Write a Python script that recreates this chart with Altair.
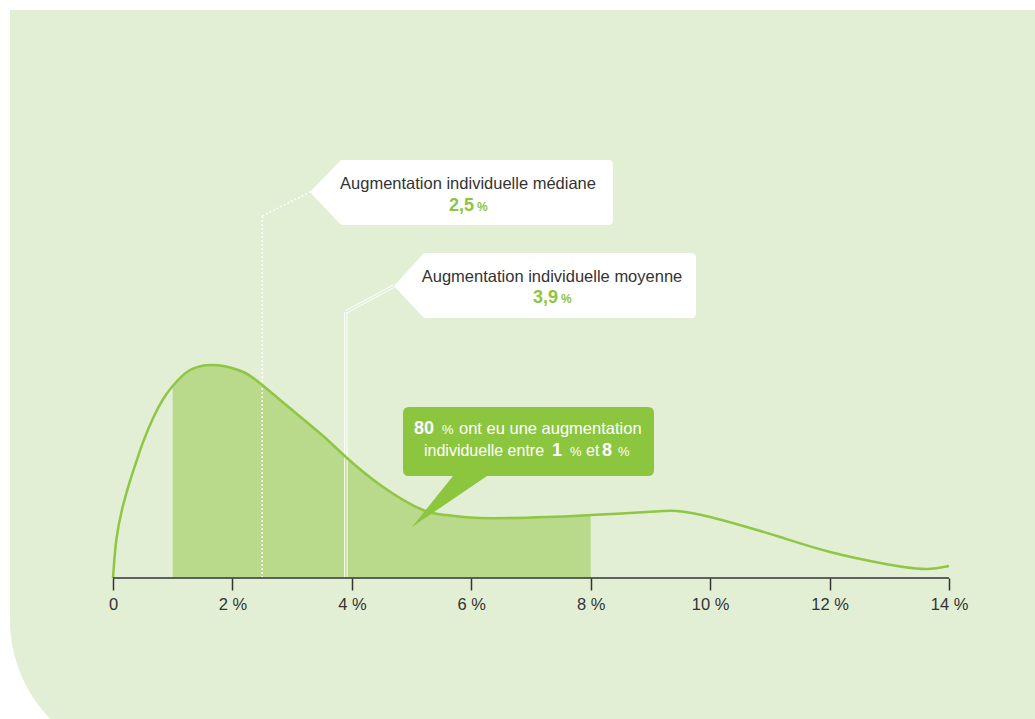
import altair as alt
import pandas as pd

# Distribution of individual raises: raise in % and relative density
raise_pct = [0, 0.06, 0.17, 0.29, 0.4, 0.51, 0.68, 0.84, 1.0, 1.29, 1.62, 1.85, 2.18, 2.5,
             2.96, 3.52, 3.9, 4.5, 5.19, 5.59, 6.15, 7.27, 8.0, 8.94, 9.44, 10.0,
             10.61, 11.17, 12.01, 12.85, 13.24, 13.63, 14.0]
density = [0, 40, 73, 98, 118, 137, 161, 179, 192, 208, 213, 212, 206, 193,
           170, 142, 121, 92, 68, 63, 60, 61, 63, 66, 67, 61,
           51, 41, 26, 15, 11, 9, 12]

# Summary statistics
median_raise = 2.5
mean_raise = 3.9
band_share = 80
band_low = 1
band_high = 8

tick_values = [0, 2, 4, 6, 8, 10, 12, 14]

PANEL = "#e2efd5"
FILL = "#b9d98b"
LINE = "#8fc644"
GREEN = "#8cc63f"
DARK = "#333333"
FONT = "Liberation Sans"


def fr(v):
    return f"{v:.1f}".replace(".", ",")


curve = pd.DataFrame({"pct": raise_pct, "dens": density})
one = pd.DataFrame({"k": [0]})
stats = pd.DataFrame({"median": [median_raise], "mean": [mean_raise]})
extent = pd.DataFrame({"lo": [min(tick_values)], "hi": [max(tick_values)]})

x_scale = alt.Scale(domain=[-1.8923, 15.4402], nice=False, zero=False)
y_scale = alt.Scale(domain=[0, 578], nice=False, zero=True)
x_axis = alt.Axis(
    values=tick_values,
    labelExpr="datum.value == 0 ? '0' : datum.value + ' %'",
    domain=False, grid=False, tickSize=12, tickWidth=1.5, tickColor=DARK,
    labelColor=DARK, labelFont=FONT, labelFontSize=16.5, labelPadding=6,
    labelFlush=False, title=None, zindex=2,
)


def xq(field):
    return alt.X(field, type="quantitative", scale=x_scale, axis=x_axis)


panel = alt.Chart(one).mark_rect(color=PANEL, cornerRadiusBottomLeft=142).encode(
    x=alt.value(10), x2=alt.value(1040), y=alt.value(10), y2=alt.value(762)
)

area = alt.Chart(curve).transform_filter(
    (alt.datum.pct >= band_low) & (alt.datum.pct <= band_high)
).mark_area(color=FILL, interpolate="natural").encode(
    x=xq("pct"),
    y=alt.Y("dens:Q", scale=y_scale, axis=None),
)

line = alt.Chart(curve).mark_line(color=LINE, strokeWidth=2.5, interpolate="natural").encode(
    x=xq("pct"),
    y=alt.Y("dens:Q", scale=y_scale, axis=None),
)

baseline = alt.Chart(extent).mark_rule(color=DARK, strokeWidth=1.5).encode(
    x=xq("lo"), x2="hi:Q", y=alt.value(578)
)

# Median: dotted white leader
med_v = alt.Chart(stats).mark_rule(color="white", strokeWidth=1.5, strokeDash=[2, 2]).encode(
    x=xq("median"), y=alt.value(578), y2=alt.value(216)
)
med_d = alt.Chart(stats).mark_rule(color="white", strokeWidth=1.5, strokeDash=[2, 2]).encode(
    x=xq("median"), x2=alt.value(310), y=alt.value(216), y2=alt.value(192)
)

# Mean: double white leader
mean_layers = []
for s in (-1, 1):
    mean_layers.append(
        alt.Chart(stats).mark_rule(color="white", strokeWidth=1, xOffset=1.2 * s).encode(
            x=xq("mean"), y=alt.value(578), y2=alt.value(312)
        )
    )
    mean_layers.append(
        alt.Chart(stats).mark_rule(
            color="white", strokeWidth=1,
            xOffset=0.6 * s, x2Offset=0.6 * s, yOffset=1.1 * s, y2Offset=1.1 * s,
        ).encode(
            x=xq("mean"), x2=alt.value(394), y=alt.value(312), y2=alt.value(286)
        )
    )

CALLOUT_MED = "M0,0 L30,-31 Q31,-32 33,-32 L298,-32 Q303,-32 303,-27 L303,28 Q303,33 298,33 L33,33 Q31,33 30,32 Z"
CALLOUT_MEAN = "M0,0 L29,-32 Q30,-33 32,-33 L297,-33 Q302,-33 302,-28 L302,27 Q302,32 297,32 L32,32 Q30,32 29,31 Z"
CALLOUT_BAND = "M6,0 L245,0 Q251,0 251,6 L251,63 Q251,69 245,69 L84,69 L9,120 L50,69 L6,69 Q0,69 0,63 L0,6 Q0,0 6,0 Z"


def shape(path, x, y, color):
    return alt.Chart(one).mark_point(
        shape=path, size=4, filled=True, fill=color, opacity=1, strokeWidth=0
    ).encode(x=alt.value(x), y=alt.value(y))


def label(text, x, y, size, color, weight="normal", align="center"):
    return alt.Chart(one).mark_text(
        font=FONT, fontSize=size, color=color, fontWeight=weight,
        align=align, baseline="alphabetic"
    ).encode(x=alt.value(x), y=alt.value(y), text=alt.value(text))


callouts = [
    shape(CALLOUT_MED, 310, 192, "white"),
    shape(CALLOUT_MEAN, 394, 286, "white"),
    shape(CALLOUT_BAND, 403, 407, GREEN),
    label("Augmentation individuelle médiane", 468, 189, 16.5, DARK),
    label(fr(median_raise), 474, 211, 18, GREEN, "bold", "right"),
    label("%", 477, 211, 12, GREEN, "bold", "left"),
    label("Augmentation individuelle moyenne", 552, 282, 16.5, DARK),
    label(fr(mean_raise), 558, 303, 18, GREEN, "bold", "right"),
    label("%", 561, 303, 12, GREEN, "bold", "left"),
    label(str(band_share), 414, 434, 18, "white", "bold", "left"),
    label("%", 442, 434, 13, "white", "normal", "left"),
    label("ont eu une augmentation", 459, 434, 16.5, "white", "normal", "left"),
    label("individuelle entre", 424, 456, 16, "white", "normal", "left"),
    label(str(band_low), 552, 456, 18, "white", "bold", "left"),
    label("%", 570, 456, 13, "white", "normal", "left"),
    label("et", 586, 456, 16, "white", "normal", "left"),
    label(str(band_high), 602, 456, 18, "white", "bold", "left"),
    label("%", 618, 456, 13, "white", "normal", "left"),
]

chart = alt.layer(
    panel, area, med_v, med_d, *mean_layers, line, baseline, *callouts
).properties(
    width=1035, height=578,
    autosize=alt.AutoSizeParams(type="none"),
    padding={"left": 0, "top": 0, "right": 0, "bottom": 141},
    background="white",
).configure_view(stroke=None)

chart.save("out.html", embed_options={"renderer": "svg", "actions": False})
